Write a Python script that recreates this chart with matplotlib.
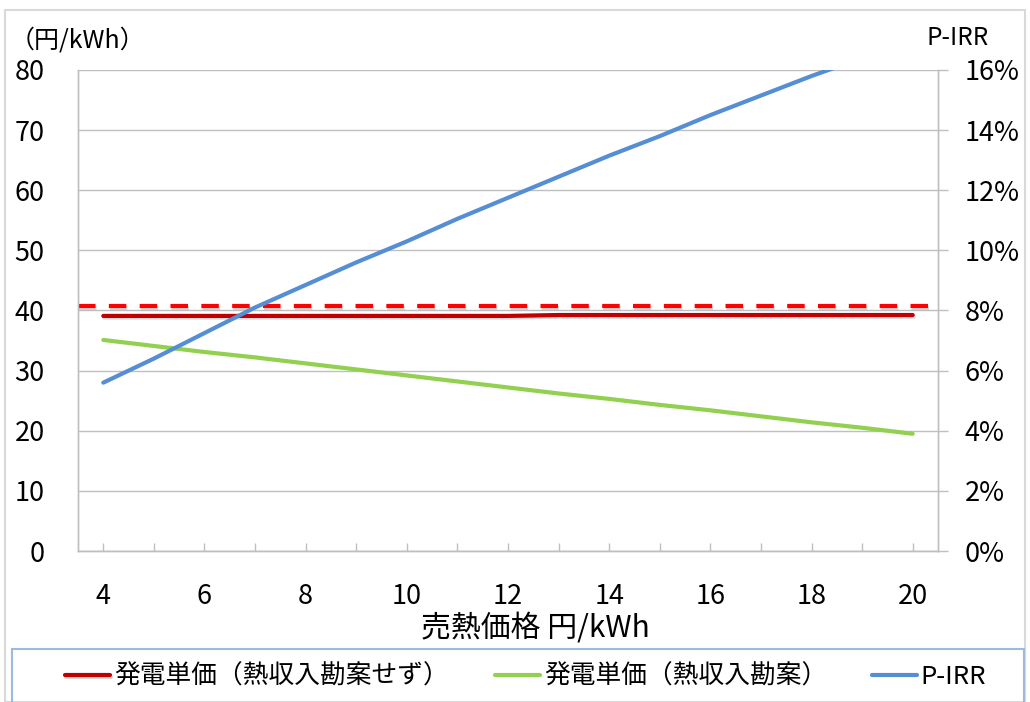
import matplotlib.pyplot as plt
import matplotlib.patheffects as pe
from matplotlib.patches import Rectangle
from matplotlib.ticker import FuncFormatter
import numpy as np

plt.rcParams['font.family'] = ['Noto Sans CJK JP', 'DejaVu Sans']

# 売熱価格 (円/kWh)
heat_price = np.arange(4, 21)
# 発電単価 (円/kWh)
cost_no_heat = [39.1, 39.1, 39.1, 39.1, 39.1, 39.1, 39.1, 39.1, 39.1,
                39.25, 39.25, 39.25, 39.25, 39.25, 39.25, 39.25, 39.25]
cost_with_heat = [35.1, 34.1, 33.1, 32.2, 31.2, 30.2, 29.2, 28.2, 27.2,
                  26.2, 25.3, 24.3, 23.4, 22.4, 21.4, 20.5, 19.5]
# P-IRR (%)
pirr = [5.6, 6.4, 7.25, 8.1, 8.85, 9.6, 10.3, 11.05, 11.75,
        12.45, 13.15, 13.8, 14.5, 15.15, 15.8, 16.4, 17.0]
ref_price = 40.7

labels = ['発電単価（熱収入勘案せず）', '発電単価（熱収入勘案）', 'P-IRR']
W, H = 1030, 702

fig = plt.figure(figsize=(W / 100, H / 100), dpi=100)
ax = fig.add_axes([78 / W, 1 - 551 / H, 860 / W, 481 / H])
ax2 = ax.twinx()

grid_c = '#BFBFBF'
ax.set_xlim(3.5, 20.5)
ax.set_ylim(0, 80)
ax.set_yticks(range(0, 81, 10))
ax.grid(axis='y', color=grid_c, lw=1.0)
ax.set_axisbelow(True)
ax.set_xticks(heat_price)
ax.set_xticklabels([str(v) if v % 2 == 0 else '' for v in heat_price])
ax.tick_params(axis='x', direction='in', length=5.5, color=grid_c, width=1.0,
               pad=23, labelsize=19.5)
ax.tick_params(axis='y', length=0, pad=24, labelsize=19.5)

ax2.set_ylim(0, 16)
ax2.set_yticks(range(0, 17, 2))
ax2.yaxis.set_major_formatter(FuncFormatter(lambda v, p: f'{v:.0f}%'))
ax2.tick_params(axis='y', direction='out', length=7, color=grid_c, width=1.0,
                pad=12, labelsize=19.5)

for a in (ax, ax2):
    a.spines['top'].set_visible(False)
    for s in ('left', 'right', 'bottom'):
        a.spines[s].set_color(grid_c)
        a.spines[s].set_linewidth(1.0)

shadow = [pe.SimpleLineShadow(offset=(0.6, -1.2), shadow_color='#808080', alpha=0.3),
          pe.Normal()]

ax.axhline(ref_price, color='#FF0000', lw=3.0, dashes=(4.2, 3.2),
           path_effects=shadow, zorder=3)
l1, = ax.plot(heat_price, cost_no_heat, color='#C00000', lw=3.0,
              solid_capstyle='round', path_effects=shadow, zorder=4)
l2, = ax.plot(heat_price, cost_with_heat, color='#92D050', lw=3.0,
              solid_capstyle='round', zorder=4)
l3, = ax2.plot(heat_price, pirr, color='#558ED5', lw=3.0,
               solid_capstyle='round')

ax.set_xlabel('売熱価格 円/kWh', fontsize=21.5, va='center')
ax.xaxis.set_label_coords((535 - 78) / 860, (551 - 628) / 481)

fig.text(10 / W, 1 - 40 / H, '（円/kWh）', fontsize=18, ha='left', va='center')
fig.text(958 / W, 1 - 38 / H, 'P-IRR', fontsize=17.5, ha='center', va='center')

# outer frame and legend frame
fig.patches.append(Rectangle((5 / W, 0), 1020 / W, 1 - 10 / H, transform=fig.transFigure,
                             fill=False, edgecolor='#D9D9D9', lw=1.5))
fig.patches.append(Rectangle((12 / W, -0.01), 1012 / W, 0.01 + 1 - 649 / H,
                             transform=fig.transFigure, fill=False,
                             edgecolor='#9DB9DD', lw=1.5))

# one legend entry per slot along the bottom band
for handle, text, x0 in zip([l1, l2, l3], labels, [65, 495, 872]):
    fig.legend([handle], [text], loc='center left',
               bbox_to_anchor=(x0 / W, 1 - 677 / H), frameon=False,
               fontsize=18.5, handlelength=1.75, handletextpad=0.15,
               borderpad=0, borderaxespad=0)

fig.savefig('out.png', dpi=100)
